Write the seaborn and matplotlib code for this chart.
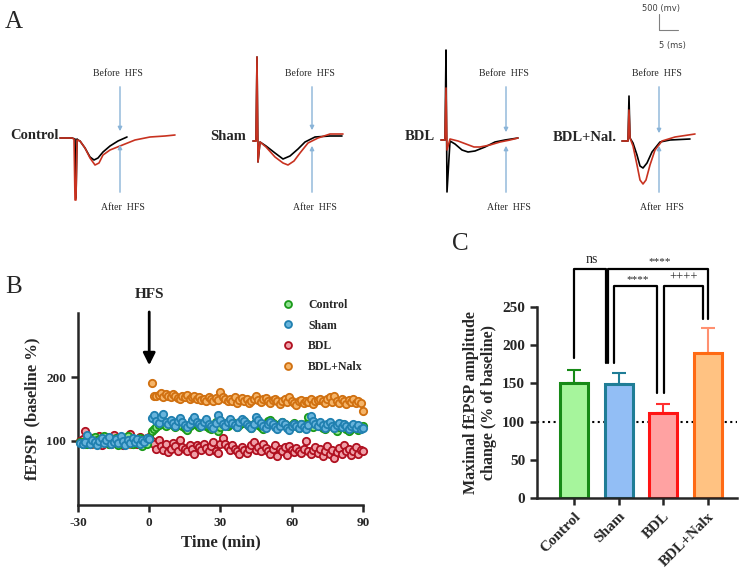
import matplotlib
matplotlib.use("Agg")
import matplotlib.pyplot as plt
from matplotlib.lines import Line2D
import numpy as np
import pandas as pd
import seaborn as sns

sns.set_style("ticks")
plt.rcParams['font.family'] = ['Liberation Serif', 'DejaVu Serif']
plt.rcParams['axes.unicode_minus'] = False

# ---------------- panel A: example traces (pixel-like units) ----------------
trace_names = ['Control', 'Sham', 'BDL', 'BDL+Nal.']
trace_before_x = [
    [60, 72, 75, 76, 77, 78, 80, 85, 90, 94, 98, 103, 110, 118, 127],
    [253, 256, 257, 258, 260, 266, 275, 283, 290, 298, 305, 315, 330, 342],
    [441, 445, 446, 447, 450, 455, 462, 468, 475, 485, 495, 505, 518],
    [622, 628, 629, 630, 633, 637, 640, 643, 647, 652, 660, 670, 690],
]
trace_before_y = [
    [138, 138, 139, 198, 139, 140, 141, 148, 157, 160, 158, 152, 146, 141, 137],
    [141, 141, 57, 162, 142, 146, 153, 159, 156, 149, 142, 137, 136, 136],
    [140, 140, 50, 192, 141, 144, 150, 152, 151, 147, 142, 140, 138],
    [141, 141, 96, 138, 143, 155, 166, 168, 163, 152, 142, 140, 139],
]
trace_after_x = [
    [60, 72, 74, 75, 76, 77, 80, 85, 90, 95, 99, 103, 110, 120, 135, 150, 165, 175],
    [253, 256, 257, 258, 260, 266, 275, 283, 288, 294, 300, 308, 318, 330, 343],
    [441, 445, 446, 447, 450, 458, 466, 474, 480, 490, 500, 510, 518],
    [622, 628, 629, 630, 633, 637, 640, 643, 646, 650, 655, 662, 675, 695],
]
trace_after_y = [
    [138, 138, 139, 200, 200, 140, 141, 148, 158, 165, 163, 155, 150, 146, 140, 137, 136, 135],
    [141, 141, 57, 162, 142, 147, 157, 163, 165, 161, 153, 143, 138, 134, 134],
    [140, 140, 88, 150, 139, 141, 144, 147, 147, 145, 142, 140, 138],
    [141, 141, 110, 138, 146, 165, 180, 184, 180, 165, 150, 141, 137, 134],
]
label_pos = [(10, 135), (210, 136), (405, 136), (553, 137)]
arrow_x = [120, 312, 506, 659]

# ---------------- panel B: time course ----------------
groups_b = ['Control', 'Sham', 'BDL', 'BDL+Nalx']
base_control = [98, 95, 100, 96, 103, 99, 106, 101, 97, 104, 108, 100, 96, 102, 98,
                105, 94, 100, 97, 103, 108, 99, 95, 101, 97, 104, 92, 99, 95, 104]
base_sham = [97, 95, 99, 110, 96, 102, 98, 93, 100, 104, 97, 101, 106, 95, 99,
             103, 97, 108, 100, 94, 102, 97, 105, 99, 103, 96, 101, 98, 104, 103]
base_bdl = [100, 103, 115, 98, 95, 104, 100, 96, 108, 93, 99, 106, 101, 95, 110,
            97, 103, 99, 93, 105, 98, 111, 96, 102, 95, 107, 100, 97, 104, 107]
base_nalx = [98, 101, 96, 103, 99, 95, 102, 100, 97, 104, 99, 101, 96, 103, 100,
             98, 102, 97, 101, 99, 104, 96, 100, 98, 102, 99, 101, 97, 103, 100]
post_control = [115, 118, 122, 125, 128, 126, 124, 129, 127, 125,
                122, 128, 126, 124, 120, 117, 123, 127, 131, 125,
                122, 126, 128, 124, 121, 118, 125, 129, 115, 122,
                126, 128, 124, 127, 130, 126, 122, 125, 128, 132,
                127, 124, 121, 126, 129, 125, 122, 119, 124, 131,
                133, 128, 125, 122, 127, 130, 126, 123, 120, 125,
                128, 124, 121, 126, 123, 127, 138, 125, 122, 128,
                126, 124, 120, 118, 123, 127, 125, 121, 116, 122,
                126, 124, 119, 115, 118, 122, 120, 117, 121, 124]
post_sham = [136, 140, 132, 128, 137, 142, 130, 126, 133, 128,
             124, 131, 136, 129, 125, 122, 127, 133, 138, 130,
             126, 123, 129, 134, 127, 124, 121, 128, 141, 133,
             127, 124, 130, 135, 128, 125, 122, 129, 134, 131,
             127, 124, 120, 126, 137, 133, 128, 124, 121, 127,
             130, 126, 122, 118, 124, 129, 126, 121, 117, 123,
             127, 124, 120, 126, 122, 118, 125, 139, 131, 127,
             123, 129, 125, 121, 126, 130, 124, 120, 125, 128,
             122, 126, 123, 119, 124, 127, 121, 125, 118, 121]
post_bdl = [100, 96, 88, 102, 92, 86, 95, 83, 88, 97,
            92, 85, 102, 90, 87, 84, 93, 88, 80, 94,
            91, 86, 95, 89, 84, 92, 98, 85, 81, 95,
            104, 96, 90, 86, 93, 88, 84, 80, 91, 86,
            82, 88, 93, 99, 86, 90, 84, 96, 89, 85,
            80, 87, 93, 76, 88, 84, 91, 78, 92, 86,
            83, 89, 85, 81, 88, 100, 84, 79, 86, 90,
            82, 87, 76, 84, 92, 80, 86, 74, 83, 89,
            80, 93, 84, 88, 78, 85, 91, 80, 86, 84]
post_nalx = [190, 171, 170, 172, 175, 169, 173, 170, 168, 174,
             171, 167, 165, 170, 168, 172, 166, 169, 171, 165,
             168, 164, 166, 163, 169, 165, 162, 167, 164, 176,
             168, 165, 162, 166, 163, 168, 160, 164, 167, 162,
             165, 159, 163, 166, 171, 164, 161, 165, 167, 162,
             160, 164, 166, 163, 158, 162, 165, 161, 168, 163,
             160, 157, 162, 164, 159, 163, 161, 165, 158, 162,
             164, 166, 163, 160, 165, 168, 161, 171, 163, 160,
             166, 162, 158, 164, 161, 165, 159, 163, 160, 147]
base_time = np.arange(-29, 1)
post_time = np.arange(1, 91)

face_b = {'Control': '#8fe08f', 'Sham': '#68b4dc', 'BDL': '#f0a0a8', 'BDL+Nalx': '#f5b468'}
edge_b = {'Control': '#1a9a1a', 'Sham': '#2080b0', 'BDL': '#b01020', 'BDL+Nalx': '#d07010'}

# ---------------- panel C: maximal amplitude ----------------
groups_c = ['Control', 'Sham', 'BDL', 'BDL+Nalx']
means_c = [151, 149, 111, 190]
sem_c = [16, 14, 12, 32]
fill_c = ['#a6f59c', '#92bef5', '#ffa2a2', '#ffc282']
edge_c = ['#178a17', '#1f7d96', '#ff1414', '#ff6a14']
err_c = ['#178a17', '#1f7d96', '#ff3030', '#ff9070']

fig = plt.figure(figsize=(7.4, 5.69), dpi=100)

# overlay for panel A in pixel coordinates
axA = fig.add_axes([0, 0, 1, 1])
axA.set_xlim(0, 740)
axA.set_ylim(569, 0)
axA.axis('off')
for i in range(4):
    sns.lineplot(x=trace_before_x[i], y=trace_before_y[i], ax=axA, color='black',
                 lw=1.2, sort=False, estimator=None)
    sns.lineplot(x=trace_after_x[i], y=trace_after_y[i], ax=axA, color='#c83220',
                 lw=1.2, sort=False, estimator=None)
    lx, ly = label_pos[i]
    axA.text(lx, ly, trace_names[i], fontsize=10.5, fontweight='bold', va='center', ha='left')
    ax_ = arrow_x[i]
    axA.annotate('', xy=(ax_, trace_before_y[i][-1] - 3), xytext=(ax_, 84),
                 arrowprops=dict(arrowstyle='-|>', color='#8ab4d8', lw=1, mutation_scale=6))
    axA.annotate('', xy=(ax_, trace_after_y[i][-1] + 7 if i == 0 else 143), xytext=(ax_, 195),
                 arrowprops=dict(arrowstyle='-|>', color='#8ab4d8', lw=1, mutation_scale=6))
    axA.text(ax_ - 2, 73, 'Before  HFS', fontsize=7, ha='center', va='center')
    axA.text(ax_ + 3, 207, 'After  HFS', fontsize=7, ha='center', va='center')
axA.text(5, 22, 'A', fontsize=18, va='center', ha='left')
axA.text(5, 287, 'B', fontsize=18, va='center', ha='left')
axA.text(452, 244, 'C', fontsize=18, va='center', ha='left')
axA.plot([659, 659, 678], [14, 30, 30], color='#808080', lw=0.8)
axA.text(661, 8, '500 (mv)', fontsize=6, family='DejaVu Sans', color='#404040', ha='center', va='center')
axA.text(672, 45, '5 (ms)', fontsize=6, family='DejaVu Sans', color='#404040', ha='center', va='center')

# panel B
axB = fig.add_axes([0.1054, 0.1125, 0.385, 0.3374])
base_vals = {'Control': base_control, 'Sham': base_sham, 'BDL': base_bdl, 'BDL+Nalx': base_nalx}
post_vals = {'Control': post_control, 'Sham': post_sham, 'BDL': post_bdl, 'BDL+Nalx': post_nalx}
for g in ['BDL+Nalx', 'BDL', 'Control', 'Sham']:
    t = np.concatenate([base_time, post_time])
    v = np.concatenate([base_vals[g], post_vals[g]])
    sns.scatterplot(x=t, y=v, ax=axB, color=face_b[g], edgecolor=edge_b[g], linewidth=1.3,
                    s=28, clip_on=False, zorder=3)
axB.set_xlim(-30, 90)
axB.set_ylim(0, 300)
axB.set_xticks([-30, 0, 30, 60, 90])
axB.set_yticks([100, 200])
axB.tick_params(width=1.8, length=5, labelsize=9.5)
for lab in axB.get_xticklabels() + axB.get_yticklabels():
    lab.set_fontweight('bold')
for s in ['left', 'bottom']:
    axB.spines[s].set_linewidth(1.8)
sns.despine(ax=axB)
axB.set_xlabel('Time (min)', fontsize=12, fontweight='bold')
axB.set_ylabel('fEPSP  (baseline %)', fontsize=12, fontweight='bold')
axB.annotate('', xy=(0, 214), xytext=(0, 306), annotation_clip=False,
             arrowprops=dict(arrowstyle='-|>', color='black', lw=2, mutation_scale=18))
axB.text(0, 318, 'HFS', fontsize=11, fontweight='bold', ha='center', va='bottom')
handles = [Line2D([], [], marker='o', ls='none', markersize=5, markerfacecolor=face_b[g],
                  markeredgecolor=edge_b[g], markeredgewidth=1.3) for g in groups_b]
axB.legend(handles, groups_b, loc='upper left', bbox_to_anchor=(0.68, 1.13), frameon=False,
           prop={'weight': 'bold', 'size': 8.5}, labelspacing=0.75, handletextpad=1.2,
           handlelength=1)

# panel C
axC = fig.add_axes([0.7257, 0.1248, 0.2703, 0.3357])
axC.axhline(100, color='black', ls=':', lw=1.5, zorder=0)
sns.barplot(x=groups_c, y=means_c, hue=groups_c, palette=fill_c, ax=axC, width=0.63,
            legend=False, saturation=1, zorder=2)
for p, ec in zip(axC.patches, edge_c):
    p.set_edgecolor(ec)
    p.set_linewidth(2.2)
for i in range(4):
    axC.errorbar(i, means_c[i], yerr=[[0], [sem_c[i]]], fmt='none', ecolor=err_c[i],
                 elinewidth=1.5, capsize=4.7, capthick=1.5, zorder=1)
axC.set_xlim(-0.83, 3.66)
axC.set_ylim(0, 250)
axC.set_yticks([0, 50, 100, 150, 200, 250])
axC.tick_params(width=1.8, length=5, labelsize=11)
for lab in axC.get_yticklabels():
    lab.set_fontweight('bold')
axC.set_xticks(range(4))
axC.set_xticklabels(groups_c, rotation=45, ha='right', rotation_mode='anchor',
                    fontweight='bold', fontsize=11)
for s in ['left', 'bottom']:
    axC.spines[s].set_linewidth(1.8)
sns.despine(ax=axC)
axC.set_ylabel('Maximal fEPSP amplitude\nchange (% of baseline)', fontsize=11.5,
               fontweight='bold', linespacing=1.1)

brackets = [(0.0, 0.72, 183, 177, 300), (0.76, 3.0, 177, 234, 300),
            (0.89, 1.86, 177, 138, 277), (2.01, 2.90, 138, 234, 277)]
for x1, x2, y1, y2, top in brackets:
    axC.plot([x1, x1, x2, x2], [y1, top, top, y2], color='black', lw=1.6, clip_on=False)
axC.text(0.40, 303, 'ns', fontsize=10, ha='center', va='bottom')
axC.text(1.93, 303, '****', fontsize=8, ha='center', va='bottom')
axC.text(1.44, 280, '****', fontsize=8, ha='center', va='bottom')
axC.text(2.45, 280, '++++', fontsize=9, ha='center', va='bottom')

fig.savefig('out.png', dpi=100)
